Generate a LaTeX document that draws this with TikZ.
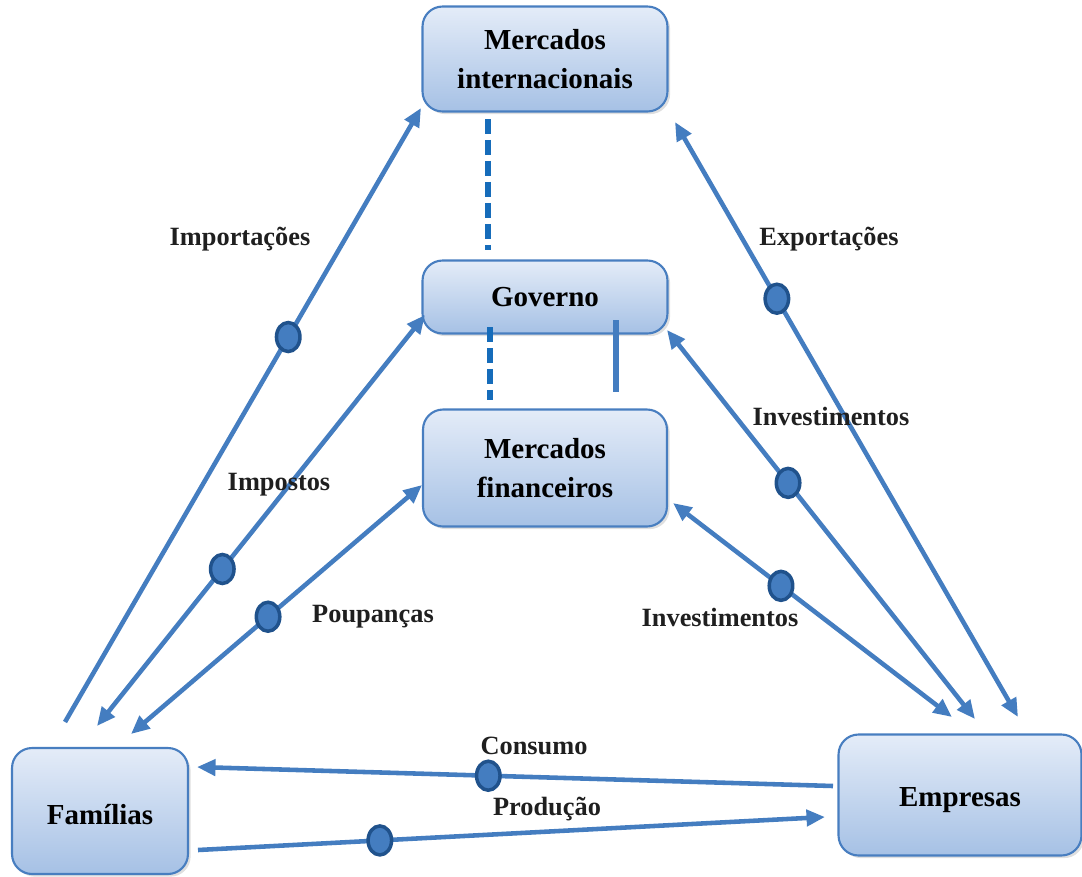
\documentclass[tikz,border=0pt]{standalone}
\usepackage{fontspec}
\setmainfont{Liberation Serif}
\usetikzlibrary{arrows.meta,shapes.geometric,shadows}
\definecolor{flowblue}{RGB}{68,125,192}
\definecolor{dotedge}{RGB}{32,82,140}
\definecolor{dashblue}{RGB}{22,108,186}
\definecolor{boxtop}{RGB}{228,236,248}
\definecolor{boxbot}{RGB}{166,193,229}
\definecolor{boxline}{RGB}{72,126,192}
\tikzset{
  >={Triangle[length=0.37cm,width=0.32cm]},
  sector/.style={draw=boxline, line width=1.2pt, rounded corners=0.4cm,
    top color=boxtop, bottom color=boxbot, align=center, inner sep=0pt,
    font=\fontsize{16.5}{22.5}\selectfont\bfseries,
    drop shadow={opacity=0.25, shadow xshift=1.5pt, shadow yshift=-1.5pt}},
  flow/.style={draw=flowblue, line width=2.6pt},
  link/.style={draw=dashblue, line width=3pt},
  flowdot/.style={ellipse, draw=dotedge, fill=flowblue, line width=2pt,
    minimum width=0.47cm, minimum height=0.58cm, inner sep=0pt},
  flowlabel/.style={font=\fontsize{15}{18}\selectfont\bfseries, text=black!88}
}
\begin{document}
\begin{tikzpicture}[x=0.02cm,y=-0.02cm]
\useasboundingbox (0,0) rectangle (1082,876);

% boxes
\node[sector, minimum width=4.9cm, minimum height=2.1cm] (MI) at (545,59) {Mercados\\internacionais};
\node[sector, minimum width=4.9cm, minimum height=1.46cm] (GOV) at (545,297) {Governo};
\node[sector, minimum width=4.88cm, minimum height=2.34cm] (MF) at (545,468) {Mercados\\financeiros};
\node[sector, minimum width=3.52cm, minimum height=2.52cm] (FAM) at (100,811) {\raisebox{-2pt}[\height][\depth]{Famílias}};
\node[sector, minimum width=4.86cm, minimum height=2.42cm] (EMP) at (960,795) {\raisebox{-3pt}[\height][\depth]{Empresas}};

% end points of the flows
\coordinate (F1) at (65,722);
\coordinate (F2) at (97,726);
\coordinate (F3) at (131,734);
\coordinate (F4) at (197,767);
\coordinate (F5) at (198,850);
\coordinate (E1) at (1018,717);
\coordinate (E2) at (975,719);
\coordinate (E3) at (952,717);
\coordinate (E4) at (833,786);
\coordinate (E5) at (825,817);
\coordinate (MI1) at (421,108);
\coordinate (MI2) at (675,122);
\coordinate (G1) at (425,315);
\coordinate (G2) at (667,330);
\coordinate (MF1) at (422,485);
\coordinate (MF2) at (673,503);

% links between the upper boxes
\coordinate (L1) at (488,119);
\coordinate (L2) at (488,250);
\coordinate (L3) at (490,327);
\coordinate (L4) at (490,400);
\coordinate (L5) at (616,320);
\coordinate (L6) at (616,392);
\draw[link, dash pattern=on 0.3cm off 0.12cm] (L1) -- (L2);
\draw[link, dash pattern=on 0.3cm off 0.12cm] (L3) -- (L4);
\draw[link, draw=flowblue] (L5) -- (L6);

% flows
\draw[flow, ->] (F1) -- node[flowdot, pos=0.627] (m1) {} (MI1);
\draw[flow, <->] (F2) -- node[flowdot, pos=0.382] (m2) {} (G1);
\draw[flow, <->] (F3) -- node[flowdot, pos=0.471] (m3) {} (MF1);
\draw[flow, <->] (E1) -- node[flowdot, pos=0.703] (m4) {} (MI2);
\draw[flow, <->] (E2) -- node[flowdot, pos=0.607] (m5) {} (G2);
\draw[flow, <->] (E3) -- node[flowdot, pos=0.613] (m6) {} (MF2);
\draw[flow, ->] (E4) -- node[flowdot, pos=0.542] (m7) {} (F4);
\draw[flow, ->] (F5) -- node[flowdot, pos=0.29] (m8) {} (E5);

% labels
\node[flowlabel] (t1) at (240,239) {Importações};
\node[flowlabel] (t2) at (829,239) {Exportações};
\node[flowlabel] (t3) at (279,485) {Impostos};
\node[flowlabel] (t4) at (373,617) {Poupanças};
\node[flowlabel] (t5) at (831,416) {Investimentos};
\node[flowlabel] (t6) at (720,617) {Investimentos};
\node[flowlabel] (t7) at (534,746) {Consumo};
\node[flowlabel] (t8) at (547,809) {Produção};
\end{tikzpicture}
\end{document}
